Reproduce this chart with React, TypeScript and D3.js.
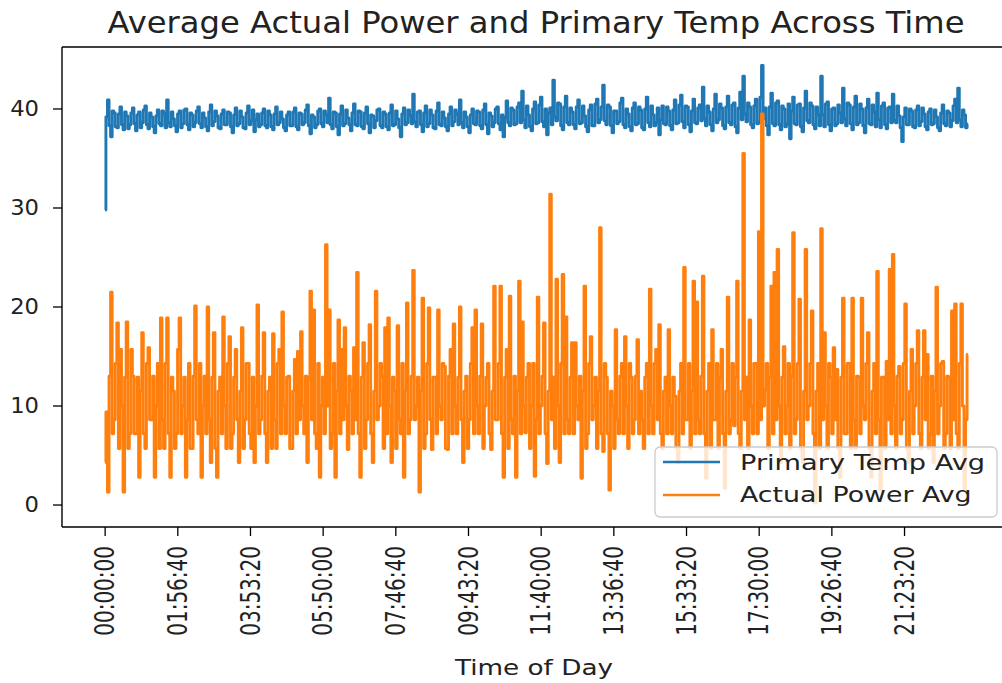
import React from 'react';
import * as d3 from 'd3';

const tickSeconds = [0, 7000, 14000, 21000, 28000, 35000, 42000, 49000, 56000, 63000, 70000, 77000];
const tickLabels = ["00:00:00", "01:56:40", "03:53:20", "05:50:00", "07:46:40", "09:43:20", "11:40:00", "13:36:40", "15:33:20", "17:30:00", "19:26:40", "21:23:20"];
const yTicks = [0, 10, 20, 30, 40];
const sampleStepSeconds = 150;

const primaryTempAvg = [
  29.8, 39.2, 40.9, 38.3, 37.2, 39.8, 39.6, 38.2, 38.1, 39.5, 40.2, 38.4, 37.9, 39.7, 39.3, 38.0, 38.4, 39.6, 40.1, 38.5,
  37.8, 39.4, 39.7, 38.1, 38.6, 39.9, 40.3, 38.4, 38.0, 39.6, 39.2, 38.2, 37.6, 39.3, 39.9, 38.5, 38.3, 39.8, 39.5, 38.1,
  40.9, 38.6, 38.2, 39.7, 39.0, 38.3, 37.7, 39.5, 39.8, 38.1, 38.5, 39.9, 40.0, 38.4, 37.9, 39.6, 39.4, 38.2, 38.6, 39.8,
  40.2, 38.5, 38.1, 39.6, 39.1, 38.2, 37.8, 39.7, 40.4, 38.3, 38.7, 39.8, 39.3, 38.1, 38.0, 39.5, 39.9, 38.4, 38.4, 39.7,
  39.6, 38.2, 37.6, 39.4, 40.1, 38.3, 38.5, 39.8, 39.2, 38.1, 38.0, 39.6, 40.3, 38.4, 38.8, 39.9, 37.7, 38.9, 39.5, 38.2,
  38.4, 39.6, 40.0, 38.3, 38.1, 39.8, 39.4, 38.2, 37.9, 39.5, 40.2, 38.4, 38.6, 39.7, 39.0, 38.1, 37.8, 39.4, 39.7, 38.3,
  38.3, 39.7, 40.1, 38.2, 37.9, 39.6, 39.5, 38.4, 38.6, 39.9, 40.4, 38.3, 37.5, 39.4, 39.2, 38.1, 38.4, 39.8, 40.0, 38.5,
  38.2, 39.8, 39.4, 38.6, 41.1, 38.4, 38.0, 39.7, 39.6, 38.2, 37.4, 39.5, 40.3, 38.3, 38.5, 39.9, 39.1, 38.4, 37.8, 39.6,
  40.5, 38.4, 38.3, 39.8, 39.7, 38.2, 38.0, 39.6, 40.2, 38.5, 37.6, 39.4, 39.3, 38.1, 38.8, 39.9, 40.0, 38.3, 38.1, 39.7,
  39.5, 38.2, 37.9, 39.6, 40.4, 38.3, 38.4, 39.8, 39.0, 38.1, 37.2, 39.5, 40.1, 38.4, 38.6, 39.9, 39.3, 38.5, 41.5, 38.7,
  38.2, 39.7, 39.8, 38.4, 37.7, 39.6, 40.3, 38.2, 38.5, 39.9, 39.4, 38.1, 38.0, 39.8, 40.6, 38.4, 38.3, 39.7, 39.1, 38.2,
  37.8, 39.5, 40.2, 38.3, 38.7, 39.9, 39.5, 38.4, 40.9, 38.6, 38.1, 39.7, 39.2, 38.2, 37.6, 39.4, 40.0, 38.5, 38.4, 39.8,
  39.7, 38.3, 38.0, 39.9, 40.5, 38.4, 37.5, 39.6, 39.3, 38.2, 38.6, 40.0, 40.2, 38.5, 37.9, 39.4, 37.2, 39.1, 40.8, 38.6,
  38.3, 40.1, 39.9, 38.4, 38.5, 40.2, 40.6, 38.6, 41.8, 38.9, 38.1, 40.3, 39.4, 38.2, 37.8, 40.0, 40.7, 38.5, 38.6, 40.4,
  41.2, 38.7, 38.2, 40.0, 37.4, 39.6, 40.1, 38.4, 42.9, 39.2, 38.8, 40.6, 40.5, 38.3, 37.9, 40.2, 41.3, 38.6, 38.4, 40.1,
  39.7, 38.4, 38.0, 40.2, 40.9, 38.5, 38.6, 40.3, 39.3, 38.2, 37.7, 39.9, 40.4, 38.3, 38.3, 40.5, 41.0, 38.6, 38.9, 40.2,
  42.4, 38.8, 38.4, 40.4, 40.2, 38.3, 37.6, 39.8, 39.8, 38.5, 38.7, 40.6, 41.1, 38.4, 38.1, 40.0, 39.5, 38.2, 37.8, 40.1,
  40.6, 38.4, 38.5, 40.2, 39.9, 38.1, 37.9, 40.0, 41.2, 38.6, 38.2, 40.3, 39.4, 38.3, 38.6, 40.1, 37.4, 38.9, 40.3, 38.5,
  38.4, 40.2, 39.8, 38.3, 37.9, 39.9, 40.9, 38.5, 38.6, 40.4, 41.4, 38.7, 38.1, 40.3, 40.2, 38.4, 37.7, 39.8, 41.0, 38.6,
  38.5, 40.1, 40.4, 38.8, 42.2, 39.0, 38.3, 40.3, 39.7, 38.4, 37.8, 40.0, 41.5, 38.6, 38.9, 40.5, 40.1, 38.3, 38.0, 40.2,
  41.3, 38.6, 38.4, 40.4, 40.6, 38.2, 37.6, 40.1, 41.7, 38.9, 43.3, 39.5, 38.7, 40.6, 40.2, 38.4, 38.1, 40.3, 41.0, 38.5,
  38.6, 41.2, 44.4, 39.0, 40.1, 38.3, 37.4, 40.2, 41.6, 38.5, 38.3, 40.6, 40.8, 38.4, 37.9, 40.3, 40.0, 38.2, 38.5, 40.5,
  37.0, 39.8, 41.2, 38.5, 38.4, 40.4, 40.5, 38.2, 37.7, 40.1, 41.8, 38.8, 38.6, 40.6, 40.3, 38.4, 38.0, 40.2, 39.4, 38.3,
  43.3, 39.4, 38.2, 40.5, 40.7, 38.4, 37.8, 40.0, 40.1, 38.3, 38.5, 40.4, 39.6, 38.6, 42.1, 39.0, 38.3, 40.6, 40.4, 38.5,
  37.9, 40.2, 41.3, 38.4, 38.6, 40.5, 40.0, 38.3, 37.6, 40.1, 41.0, 38.5, 38.4, 40.4, 39.7, 38.2, 41.6, 38.9, 38.1, 40.3,
  40.6, 38.4, 38.0, 40.1, 40.2, 38.6, 41.5, 38.8, 38.6, 40.3, 39.3, 38.1, 36.7, 39.2, 40.1, 38.4, 38.4, 40.0, 39.8, 38.2,
  38.1, 39.9, 40.3, 38.3, 38.7, 40.1, 39.5, 38.2, 37.9, 39.7, 40.0, 38.4, 38.5, 39.9, 39.2, 38.1, 37.8, 39.6, 40.4, 38.5,
  38.3, 39.8, 39.6, 38.2, 38.8, 40.3, 41.0, 38.6, 42.1, 38.9, 38.2, 39.9, 39.4, 38.1, 38.5,
];

const actualPowerAvg = [
  4.3, 9.4, 1.3, 13.0, 21.5, 7.2, 8.6, 14.3, 18.4, 5.7, 15.7, 10.0, 1.3, 12.9, 18.5, 5.7, 7.2, 15.7, 13.0, 7.2,
  7.2, 12.9, 2.8, 11.5, 17.4, 7.2, 5.7, 14.3, 15.9, 8.6, 8.6, 13.0, 2.8, 10.0, 14.3, 5.7, 18.9, 8.6, 5.7, 14.3,
  18.9, 7.2, 2.8, 12.9, 11.5, 5.7, 7.2, 15.7, 18.9, 7.2, 10.0, 12.9, 2.8, 8.6, 14.3, 5.7, 5.7, 13.0, 20.1, 8.6,
  7.2, 14.3, 2.8, 10.0, 13.0, 7.2, 20.0, 8.6, 4.3, 12.9, 17.4, 5.7, 2.8, 11.5, 12.9, 7.2, 19.0, 10.0, 5.7, 14.3,
  17.0, 5.7, 7.2, 12.9, 15.7, 8.6, 4.3, 11.5, 17.9, 5.7, 8.6, 14.3, 14.3, 7.2, 5.7, 12.9, 4.3, 10.0, 20.2, 7.2,
  8.6, 13.0, 17.4, 7.2, 4.3, 11.5, 12.9, 5.7, 17.3, 8.6, 5.7, 14.3, 15.7, 7.2, 19.5, 10.0, 7.2, 12.9, 13.0, 5.7,
  5.7, 11.5, 14.7, 7.2, 15.5, 8.6, 17.5, 10.0, 7.2, 13.0, 4.3, 12.9, 21.6, 8.6, 19.7, 7.2, 5.7, 14.3, 2.8, 10.0,
  12.9, 7.2, 26.3, 10.0, 19.7, 5.7, 7.2, 14.3, 2.8, 11.5, 18.7, 7.2, 15.7, 8.6, 17.9, 10.0, 5.6, 13.0, 11.5, 7.2,
  15.9, 8.6, 23.5, 7.2, 2.8, 12.9, 16.4, 5.7, 8.6, 14.3, 18.2, 7.2, 4.3, 11.5, 21.6, 8.6, 10.0, 14.3, 13.0, 5.7,
  17.9, 7.2, 18.9, 10.0, 4.3, 12.9, 11.5, 5.7, 18.1, 8.6, 7.2, 14.3, 2.8, 11.5, 20.4, 7.2, 8.6, 13.0, 23.7, 8.6,
  10.0, 12.9, 1.3, 11.5, 20.9, 5.7, 7.2, 14.3, 19.9, 8.6, 5.6, 12.9, 12.9, 7.2, 19.7, 10.0, 8.6, 14.3, 14.0, 5.7,
  5.6, 13.0, 15.7, 7.2, 18.3, 10.0, 7.2, 12.9, 20.0, 8.6, 4.3, 11.5, 13.0, 5.7, 8.6, 14.3, 17.9, 7.2, 19.7, 10.0,
  7.2, 13.0, 18.3, 5.7, 10.0, 12.9, 14.3, 7.2, 5.6, 11.5, 22.1, 8.6, 8.6, 14.3, 22.1, 7.2, 2.8, 12.9, 15.7, 5.7,
  21.1, 8.6, 7.2, 13.0, 2.8, 11.5, 22.6, 7.2, 18.5, 10.0, 7.3, 12.9, 14.3, 5.7, 10.0, 14.3, 2.9, 8.6, 21.0, 7.2,
  10.0, 13.0, 18.4, 7.2, 4.2, 11.5, 31.4, 8.6, 12.9, 5.7, 22.8, 10.0, 4.3, 14.3, 23.3, 7.2, 19.0, 8.6, 7.2, 12.9,
  16.4, 7.2, 16.4, 10.0, 8.6, 13.0, 2.7, 11.5, 22.1, 5.7, 7.2, 14.3, 17.0, 8.6, 10.0, 12.9, 5.7, 11.5, 28.0, 7.2,
  5.4, 14.3, 12.9, 7.2, 1.5, 11.5, 10.0, 5.7, 17.7, 8.6, 7.2, 13.0, 14.3, 7.2, 17.0, 10.0, 5.7, 14.3, 12.9, 7.2,
  8.6, 13.0, 16.7, 7.2, 11.5, 8.6, 5.7, 12.9, 14.3, 7.2, 21.8, 10.0, 7.2, 14.3, 15.7, 8.6, 18.2, 7.2, 5.7, 11.5,
  12.9, 7.2, 17.7, 10.0, 7.2, 12.9, 11.0, 5.7, 4.3, 11.5, 14.3, 7.2, 24.0, 8.6, 8.6, 14.3, 5.7, 11.5, 22.6, 7.2,
  20.5, 8.6, 7.2, 13.0, 23.1, 7.2, 2.7, 11.5, 14.3, 5.7, 17.7, 8.6, 8.6, 14.3, 5.7, 12.9, 15.7, 7.2, 1.7, 11.5,
  21.0, 7.2, 8.6, 14.3, 8.0, 12.9, 22.6, 7.2, 5.7, 11.5, 35.5, 8.6, 12.9, 5.7, 18.7, 10.0, 7.2, 14.3, 14.3, 7.2,
  27.6, 8.6, 39.5, 10.0, 11.6, 14.3, 5.7, 12.9, 22.1, 7.2, 23.5, 8.6, 25.8, 10.0, 4.3, 12.9, 16.0, 7.2, 10.0, 14.3,
  5.7, 13.0, 27.5, 7.2, 8.6, 14.3, 20.8, 5.7, 4.3, 11.5, 25.8, 8.6, 10.0, 14.3, 19.6, 7.2, 0.2, 11.5, 14.3, 5.7,
  27.9, 8.6, 17.4, 10.0, 5.7, 14.3, 12.9, 7.2, 15.9, 8.6, 13.7, 5.7, 2.8, 12.9, 20.9, 7.2, 7.2, 14.3, 14.3, 5.7,
  20.9, 8.6, 5.7, 13.0, 12.9, 7.2, 20.9, 10.0, 8.6, 14.3, 17.4, 5.7, 2.8, 11.5, 14.3, 7.2, 23.6, 8.6, 1.5, 12.9,
  12.9, 5.7, 14.5, 8.6, 23.8, 7.2, 25.3, 10.0, 5.7, 13.0, 14.0, 7.2, 8.6, 14.3, 20.3, 5.7, 4.3, 11.5, 15.7, 7.2,
  10.0, 14.3, 17.6, 7.2, 5.7, 12.9, 17.6, 8.6, 15.2, 5.7, 7.2, 13.0, 4.3, 11.5, 22.0, 7.2, 10.0, 14.3, 14.5, 5.7,
  7.2, 13.0, 12.9, 5.7, 19.6, 8.6, 20.3, 7.2, 5.7, 14.3, 20.3, 10.0, 1.5, 8.6, 15.2,
];

const seriesNames = ["Primary Temp Avg", "Actual Power Avg"];
const seriesColors = ["#1f77b4", "#ff7f0e"];

export default function App() {
  const W = 1002, H = 683;
  const left = 62, right = 1011, top = 47, bottom = 527;
  const x = d3.scaleLinear().domain([-4155, 87255]).range([left, right]);
  const y = d3.scaleLinear().domain([-2.22, 46.26]).range([bottom, top]);
  const line = d3.line<number>()
    .x((_, i) => x(i * sampleStepSeconds))
    .y((d) => y(d))
    .curve(d3.curveStep);
  const font = "'DejaVu Sans', sans-serif";
  const textColor = "#222";
  const lw = 2.9;

  return (
    <svg width={W} height={H} style={{ position: 'absolute', left: 0, top: 0, background: '#fff' }}
      fontFamily={font}>
      <rect x={0} y={0} width={W} height={H} fill="#fff" />
      {/* lines */}
      <path d={line(primaryTempAvg) || ''} fill="none" stroke={seriesColors[0]} strokeWidth={lw} strokeLinejoin="round" />
      <path d={line(actualPowerAvg) || ''} fill="none" stroke={seriesColors[1]} strokeWidth={lw} strokeLinejoin="round" />

      {/* spines */}
      <line x1={left} x2={left} y1={top} y2={bottom} stroke="#000" strokeWidth={1.4} />
      <line x1={left} x2={right} y1={top} y2={top} stroke="#000" strokeWidth={1.4} />
      <line x1={left} x2={right} y1={bottom} y2={bottom} stroke="#000" strokeWidth={1.4} />
      <line x1={right} x2={right} y1={top} y2={bottom} stroke="#000" strokeWidth={1.4} />

      {/* y ticks */}
      {yTicks.map((v) => (
        <g key={v}>
          <line x1={left - 9} x2={left} y1={y(v)} y2={y(v)} stroke="#000" strokeWidth={1.3} />
          <text transform={`translate(39,${y(v)}) scale(1.1,1)`} textAnchor="end" dominantBaseline="central"
            fontSize={20.6} fill={textColor}>{v}</text>
        </g>
      ))}

      {/* x ticks */}
      {tickSeconds.map((t, i) => (
        <g key={t}>
          <line x1={x(t)} x2={x(t)} y1={bottom} y2={bottom + 9} stroke="#000" strokeWidth={1.3} />
          <text transform={`translate(${x(t)},546) rotate(-90) scale(1,1.35)`} textAnchor="end"
            dominantBaseline="central" fontSize={20} fill={textColor}>{tickLabels[i]}</text>
        </g>
      ))}

      {/* title */}
      <text x={536} y={33} textAnchor="middle" fontSize={29.7} fill={textColor}
        textLength={857} lengthAdjust="spacingAndGlyphs">Average Actual Power and Primary Temp Across Time</text>

      {/* x label */}
      <text x={534} y={675} textAnchor="middle" fontSize={20.5} fill={textColor}
        textLength={158} lengthAdjust="spacingAndGlyphs">Time of Day</text>

      {/* legend */}
      <rect x={655} y={447} width={342} height={70} rx={5} ry={5} fill="#fff" fillOpacity={0.8}
        stroke="#cccccc" strokeWidth={1.3} />
      {seriesNames.map((name, i) => (
        <g key={name}>
          <line x1={663} x2={720} y1={462 + i * 33} y2={462 + i * 33} stroke={seriesColors[i]} strokeWidth={2.6} />
          <text x={740} y={470 + i * 32} fontSize={20.5} fill={textColor}
            textLength={i === 0 ? 245 : 231.6} lengthAdjust="spacingAndGlyphs">{name}</text>
        </g>
      ))}
    </svg>
  );
}
